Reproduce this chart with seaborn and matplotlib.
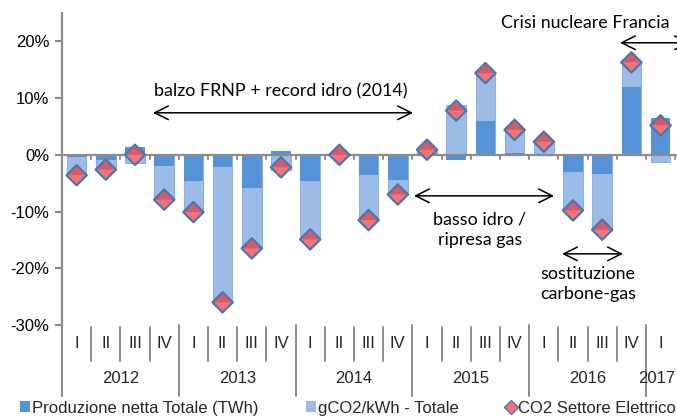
import numpy as np
import pandas as pd
import matplotlib
matplotlib.use("Agg")
import matplotlib.pyplot as plt
import matplotlib.transforms as mtransforms
from matplotlib.path import Path
from matplotlib.patches import Patch
from matplotlib.lines import Line2D
import seaborn as sns

# ---- data (percent change) ----
quarters = ["I", "II", "III", "IV"] * 5 + ["I"]
years = ["2012", "2013", "2014", "2015", "2016", "2017"]
produzione = [-0.4, -0.9, 1.4, -2.0, -4.6, -2.1, -5.9, 0.6, -4.7, -0.2, -3.5,
              -4.4, 0.3, -1.0, 5.9, 0.4, 0.1, -3.0, -3.4, 12.0, 6.5]
gco2 = [-3.2, -1.7, -1.4, -5.9, -5.5, -24.0, -10.6, -2.7, -10.2, 0.2, -8.0,
        -2.6, 0.6, 8.8, 8.5, 4.0, 2.2, -6.8, -9.8, 4.3, -1.3]
co2 = [-3.6, -2.6, 0.0, -7.9, -10.1, -26.0, -16.5, -2.2, -14.9, 0.0, -11.5,
       -7.0, 0.9, 7.8, 14.4, 4.4, 2.3, -9.8, -13.2, 16.3, 5.2]
yticks = [-30, -20, -10, 0, 10, 20]

legend_labels = ["Produzione netta Totale (TWh)", "gCO2/kWh - Totale",
                 "CO2 Settore Elettrico"]

C_DARK = "#5592D6"
C_LIGHT = "#9CBCE7"
C_LIGHT_EDGE = "#8FB0DE"
C_DIA_TOP = "#D65A6B"
C_DIA_BOT = "#F67373"
C_DIA_EDGE = "#4A78AE"
C_AXIS = "#8C8C8C"

sns.set_theme(style="white")
plt.rcParams["font.family"] = ["Liberation Sans", "DejaVu Sans"]

n = len(quarters)
pos = np.arange(n)
prod = np.array(produzione)
light = np.array(gco2)
# Excel-style stacking: same sign stacks on top, opposite sign starts at 0
light_ext = np.where(np.sign(prod) == np.sign(light), prod + light, light)

df = pd.DataFrame({"pos": pos, "prod": prod, "light_ext": light_ext,
                   "co2": co2})

fig = plt.figure(figsize=(6.77, 4.19), dpi=100)
W, H = 677, 419
ax_left, ax_right, ax_top, ax_bot = 62, 677, 13, 325
ax = fig.add_axes([ax_left / W, 1 - ax_bot / H, (ax_right - ax_left) / W,
                   (ax_bot - ax_top) / H])

sns.barplot(data=df, x="pos", y="light_ext", native_scale=True, color=C_LIGHT,
            saturation=1, width=0.67, errorbar=None, linewidth=0.8,
            edgecolor=C_LIGHT_EDGE, ax=ax, zorder=2)
sns.barplot(data=df, x="pos", y="prod", native_scale=True, color=C_DARK,
            saturation=1, width=0.67, errorbar=None, linewidth=0, ax=ax,
            zorder=3)

diamond = Path([(-1, 0), (0, 1), (1, 0), (0, -1), (-1, 0)],
               [Path.MOVETO, Path.LINETO, Path.LINETO, Path.LINETO,
                Path.CLOSEPOLY])
lower = Path([(-1, 0), (1, 0), (0, -1), (-1, 0)],
             [Path.MOVETO, Path.LINETO, Path.LINETO, Path.CLOSEPOLY])
sns.scatterplot(data=df, x="pos", y="co2", marker=diamond, s=215,
                color=C_DIA_TOP, edgecolor="none", linewidth=0, ax=ax,
                zorder=5)
sns.scatterplot(data=df, x="pos", y="co2", marker=lower, s=215,
                color=C_DIA_BOT, edgecolor="none", linewidth=0, ax=ax,
                zorder=6)
sns.scatterplot(data=df, x="pos", y="co2", marker=diamond, s=215,
                facecolor="none", edgecolor=C_DIA_EDGE, linewidth=1.6, ax=ax,
                zorder=7)

px_per_cat = 29.2
ax.set_xlim(-0.5, -0.5 + (ax_right - ax_left) / px_per_cat)
ax.set_ylim(-30, 25)
ax.set_xlabel("")
ax.set_ylabel("")
ax.set_xticks([])
ax.set_yticks(yticks)
ax.set_yticklabels([f"{v}%" for v in yticks], fontsize=12)
ax.tick_params(axis="y", length=5, width=1.5, color=C_AXIS, pad=4,
               labelcolor="black", left=True)
for s in ["top", "right", "bottom"]:
    ax.spines[s].set_visible(False)
ax.spines["left"].set_color(C_AXIS)
ax.spines["left"].set_linewidth(1.6)
ax.axhline(0, color=C_AXIS, lw=1.6, zorder=4)
# small ticks at category boundaries on the zero line
for b in np.arange(-0.5, n, 1.0):
    ax.plot([b, b], [0, -0.75], color=C_AXIS, lw=1.4, zorder=4)

# multi-level category axis below the plot
tr = mtransforms.blended_transform_factory(ax.transData, ax.transAxes)
axh = ax_bot - ax_top
def ya(py):
    return (ax_bot - py) / axh

for i, q in enumerate(quarters):
    ax.text(i, ya(343), q, transform=tr, ha="center", va="center",
            fontsize=12, clip_on=False)
for k in range(n):
    b = k + 0.5
    if k % 4 == 3 or k == n - 1:
        continue
    ax.plot([b, b], [ya(327), ya(361)], transform=tr, color=C_AXIS, lw=1.4,
            clip_on=False)
for b in [-0.5, 3.5, 7.5, 11.5, 15.5, 19.5]:
    ax.plot([b, b], [ya(325), ya(396)], transform=tr, color=C_AXIS, lw=1.4,
            clip_on=False)
year_x = [1.5, 5.5, 9.5, 13.5, 17.5, 19.88]
for yx, yl in zip(year_x, years):
    ax.text(yx, ya(378), yl, transform=tr, ha="center", va="center",
            fontsize=12, clip_on=False)

# annotations
def dx(px):
    return (px - ax_left) / px_per_cat - 0.5
def dy(py):
    return (155 - py) / 5.67

afont = dict(fontsize=12.9, family=["Lato", "DejaVu Sans"], color="black")
arrow = dict(arrowstyle="<->,head_length=0.7,head_width=0.35", color="black",
             lw=1.1, shrinkA=0, shrinkB=0, mutation_scale=14)

ax.text(dx(281), dy(92), "balzo FRNP + record idro (2014)", ha="center",
        va="center", **afont)
ax.annotate("", xy=(dx(153), dy(113)), xytext=(dx(413), dy(113)),
            arrowprops=arrow, annotation_clip=False)

ax.text(dx(585), dy(23), "Crisi nucleare Francia", ha="center", va="center",
        **afont)
ax.annotate("", xy=(dx(620), dy(43)), xytext=(dx(690), dy(43)),
            arrowprops=arrow, annotation_clip=False)

ax.text(dx(480), dy(230), "basso idro /\nripresa gas", ha="center",
        va="center", linespacing=1.3, **afont)
ax.annotate("", xy=(dx(414), dy(196)), xytext=(dx(554), dy(196)),
            arrowprops=arrow, annotation_clip=False)

ax.text(dx(588), dy(284), "sostituzione\ncarbone-gas", ha="center",
        va="center", linespacing=1.3, **afont)
ax.annotate("", xy=(dx(562), dy(254)), xytext=(dx(623), dy(254)),
            arrowprops=arrow, annotation_clip=False)

# legend
handles = [
    Patch(facecolor=C_DARK, edgecolor="none", label=legend_labels[0]),
    Patch(facecolor=C_LIGHT, edgecolor="none", label=legend_labels[1]),
    Line2D([], [], marker="D", linestyle="none", markersize=7,
           markerfacecolor=C_DIA_BOT, markeredgecolor=C_DIA_EDGE,
           markeredgewidth=1.0, label=legend_labels[2]),
]
fig.legend(handles=handles, loc="center left",
           bbox_to_anchor=(20 / W, 1 - 408 / H), ncol=3, frameon=False,
           fontsize=12, handlelength=0.6, handleheight=0.6,
           handletextpad=0.15, columnspacing=2.8, borderaxespad=0,
           borderpad=0)

fig.savefig("out.png", dpi=100)
